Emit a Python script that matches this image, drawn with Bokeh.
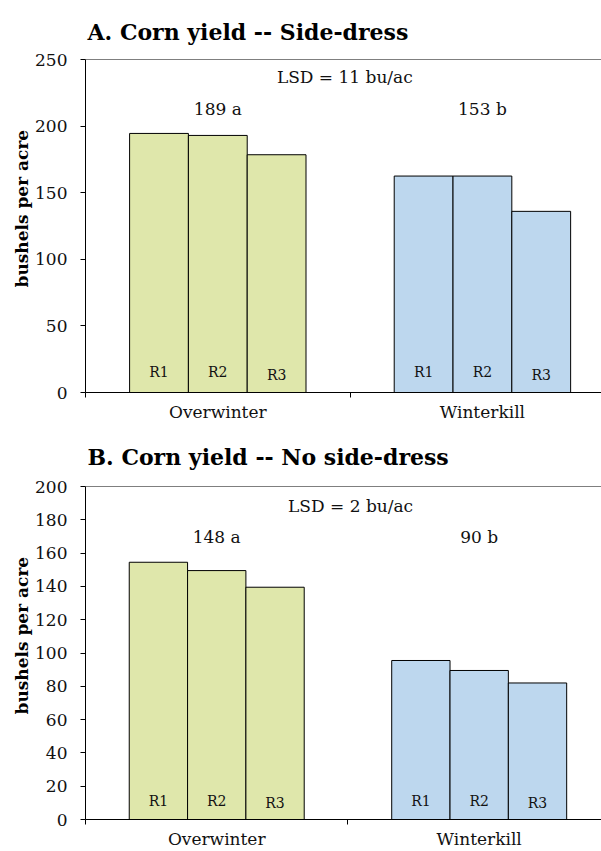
from bokeh.plotting import figure
from bokeh.models import Range1d, FixedTicker, Span, Title
from bokeh.layouts import column
from bokeh.core.properties import value
from bokeh.embed import file_html
from bokeh.resources import INLINE

# ---------------- data ----------------
categories = ["Overwinter", "Winterkill"]
reps = ["R1", "R2", "R3"]

a_title = "A. Corn yield -- Side-dress"
a_overwinter = [194.5, 193.0, 178.5]
a_winterkill = [162.5, 162.5, 136.0]
a_means = ["189 a", "153 b"]
a_lsd = "LSD = 11 bu/ac"
a_yticks = [0, 50, 100, 150, 200, 250]

b_title = "B. Corn yield -- No side-dress"
b_overwinter = [154.5, 149.5, 139.5]
b_winterkill = [95.5, 89.5, 82.0]
b_means = ["148 a", "90 b"]
b_lsd = "LSD = 2 bu/ac"
b_yticks = [0, 20, 40, 60, 80, 100, 120, 140, 160, 180, 200]

y_label = "bushels per acre"

# ---------------- style ----------------
FONT = "DejaVu Serif"
GREEN = "#DFE7AB"
BLUE = "#BDD7EE"
BAR_W = 2.0 / 9.0


def make_panel(title, ov, wk, means, lsd, yticks, height, border_top,
               border_left, x_end, mean_y, lsd_x, lsd_y, rep_y,
               title_standoff, ylab_offset):
    ymax = yticks[-1]
    p = figure(width=601, height=height, output_backend="svg",
               toolbar_location=None,
               x_range=Range1d(0, x_end), y_range=Range1d(0, ymax),
               min_border_left=border_left, min_border_right=0,
               min_border_top=border_top, min_border_bottom=30)
    p.outline_line_color = None
    p.grid.visible = False
    p.background_fill_color = "white"
    p.border_fill_color = "white"

    p.title.text = title
    p.title.text_font = FONT
    p.title.text_font_size = "22px"
    p.title.text_font_style = "bold"
    p.title.text_color = "black"
    p.title.align = "left"
    p.title.offset = 2
    p.title.standoff = title_standoff

    # bars
    for ci, (vals, col) in enumerate(zip([ov, wk], [GREEN, BLUE])):
        center = ci + 0.5
        xs = [center + (j - 1) * BAR_W for j in range(len(vals))]
        p.vbar(x=xs, top=vals, bottom=0, width=BAR_W, fill_color=col,
               line_color="black", line_width=1)
        p.text(x=xs, y=rep_y, text=reps, text_align="center",
               text_baseline="middle", text_font=value(FONT),
               text_font_size="14px", text_color="#111111")

    centers = [ci + 0.5 for ci in range(len(categories))]
    p.text(x=centers, y=[mean_y] * len(centers), text=means,
           text_align="center", text_baseline="middle",
           text_font=value(FONT), text_font_size="17px", text_color="#111111")
    p.text(x=[lsd_x], y=[lsd_y], text=[lsd], text_align="center",
           text_baseline="middle", text_font=value(FONT),
           text_font_size="17px", text_color="#111111")

    p.add_layout(Span(location=ymax, dimension="width", line_color="black",
                      line_width=1))

    # y axis
    ya = p.yaxis[0]
    ya.ticker = FixedTicker(ticks=yticks)
    ya.major_tick_in = 0
    ya.major_tick_out = 5
    ya.minor_tick_line_color = None
    ya.major_label_standoff = 13
    ya.major_label_text_font = FONT
    ya.major_label_text_font_size = "17px"
    ya.major_label_text_color = "#111111"
    ya.axis_line_color = "black"
    ya.major_tick_line_color = "black"

    # rotated y-axis title (left side panel, outside the axis)
    p.add_layout(Title(text=y_label, align="left", offset=ylab_offset,
                       standoff=2, text_font=FONT, text_font_style="bold",
                       text_font_size="17px", text_color="black"), "left")

    # x axis
    xa = p.xaxis[0]
    xa.ticker = FixedTicker(ticks=centers,
                            minor_ticks=[float(i) for i in range(len(categories) + 1)])
    xa.major_label_overrides = {c: name for c, name in zip(centers, categories)}
    xa.major_tick_in = 0
    xa.major_tick_out = 0
    xa.major_tick_line_color = None
    xa.minor_tick_in = 0
    xa.minor_tick_out = 5
    xa.minor_tick_line_color = "black"
    xa.axis_line_color = "black"
    xa.major_label_standoff = 4
    xa.major_label_text_font = FONT
    xa.major_label_text_font_size = "17px"
    xa.major_label_text_color = "#111111"
    return p


pa = make_panel(a_title, a_overwinter, a_winterkill, a_means, a_lsd, a_yticks,
                height=424, border_top=59, border_left=81, x_end=1.950,
                mean_y=213, lsd_x=0.98, lsd_y=237, rep_y=[15.3, 15.3, 13.1],
                title_standoff=30, ylab_offset=105)
pb = make_panel(b_title, b_overwinter, b_winterkill, b_means, b_lsd, b_yticks,
                height=427, border_top=62, border_left=85, x_end=1.966,
                mean_y=169.7, lsd_x=1.01, lsd_y=188.4, rep_y=[11.4, 11.4, 10.0],
                title_standoff=33, ylab_offset=105)

layout = column(pa, pb, spacing=0)
open("out.html", "w").write(file_html(layout, INLINE))
